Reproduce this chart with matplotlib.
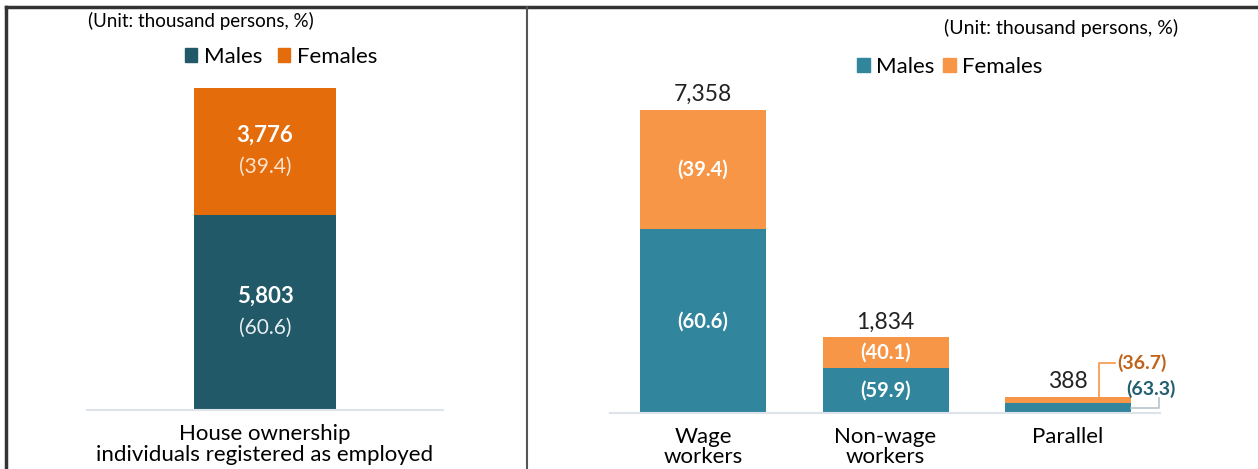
import matplotlib
matplotlib.use("Agg")
import matplotlib.pyplot as plt
from matplotlib.lines import Line2D

plt.rcParams['font.family'] = ['Lato', 'DejaVu Sans']

# left panel data
left_cat = ["House ownership\nindividuals registered as employed"]
left_males = [5803]
left_females = [3776]
left_male_pct = [60.6]
left_female_pct = [39.4]

# right panel data
right_cats = ["Wage\nworkers", "Non-wage\nworkers", "Parallel"]
right_totals = [7358, 1834, 388]
right_male_pct = [60.6, 59.9, 63.3]
right_female_pct = [39.4, 40.1, 36.7]
right_males = [4459, 1099, 246]
right_females = [2899, 735, 142]

unit_text = "(Unit: thousand persons, %)"

W, H = 1258, 469
fig = plt.figure(figsize=(W / 100, H / 100), dpi=100)

def box(x0, y0, x1, y1):
    # pixel box (top-left origin) -> figure fraction rect
    return [x0 / W, 1 - y1 / H, (x1 - x0) / W, (y1 - y0) / H]

# frame lines
fig.add_artist(Line2D([6 / W, 1], [1 - 7 / H, 1 - 7 / H], color="#333333", lw=2.5))
fig.add_artist(Line2D([6 / W, 6 / W], [0, 1 - 7 / H], color="#333333", lw=2.5))
fig.add_artist(Line2D([527 / W, 527 / W], [0, 1 - 7 / H], color="#555555", lw=1.5))

# ---------- left panel ----------
c_m1, c_f1 = "#215968", "#e46c0a"
ax1 = fig.add_axes(box(87, 88, 443, 410))
ax1.bar(0, left_males, width=1.0, color=c_m1)
ax1.bar(0, left_females, bottom=left_males, width=1.0, color=c_f1)
ax1.set_xlim(-1.25, 1.25)
ax1.set_ylim(0, left_males[0] + left_females[0])
ax1.axis("off")
ax1.axhline(0, color="#dde3e8", lw=1.5, clip_on=False)

m, f = left_males[0], left_females[0]
ax1.text(0, m / 2 + 470, f"{m:,}", ha="center", va="center", color="white",
         fontsize=16, fontweight="bold")
ax1.text(0, m / 2 - 450, f"({left_male_pct[0]})", ha="center", va="center",
         color="#e6eef0", fontsize=15)
ax1.text(0, m + f / 2 + 470, f"{f:,}", ha="center", va="center", color="white",
         fontsize=16, fontweight="bold")
ax1.text(0, m + f / 2 - 450, f"({left_female_pct[0]})", ha="center", va="center",
         color="#fbe3cf", fontsize=15)
ax1.text(0, -0.045, left_cat[0], transform=ax1.get_xaxis_transform(), ha="center",
         va="top", fontsize=16, linespacing=1.05, clip_on=False)

fig.text(88 / W, 1 - 21 / H, unit_text, ha="left", va="center", fontsize=13.5)
fig.legend(handles=[plt.Rectangle((0, 0), 1, 1, color=c_m1),
                    plt.Rectangle((0, 0), 1, 1, color=c_f1)],
           labels=["Males", "Females"], loc="center", bbox_to_anchor=(281 / W, 1 - 57 / H),
           ncol=2, frameon=False, fontsize=16, handlelength=0.55, handleheight=0.55,
           handletextpad=0.3, columnspacing=0.7)

# ---------- right panel ----------
c_m2, c_f2 = "#31859c", "#f79646"
ax2 = fig.add_axes(box(610, 110, 1160, 413))
xs = list(range(len(right_cats)))
ax2.bar(xs, right_males, width=0.69, color=c_m2)
ax2.bar(xs, right_females, bottom=right_males, width=0.69, color=c_f2)
ax2.set_xlim(-0.51, 2.504)
ax2.set_ylim(0, right_totals[0])
ax2.axis("off")
ax2.axhline(0, color="#dde3e8", lw=1.5, clip_on=False)

for i in xs:
    ax2.text(i, right_totals[i] + 120, f"{right_totals[i]:,}", ha="center", va="bottom",
             fontsize=16.5, color="#222222", clip_on=False)
    ax2.text(i, -0.045, right_cats[i], transform=ax2.get_xaxis_transform(), ha="center",
             va="top", fontsize=16, linespacing=1.0, clip_on=False)
    if i < 2:
        ax2.text(i, right_males[i] / 2, f"({right_male_pct[i]})", ha="center", va="center",
                 color="white", fontsize=14.5, fontweight="bold")
        ax2.text(i, right_males[i] + right_females[i] / 2, f"({right_female_pct[i]})",
                 ha="center", va="center", color="white", fontsize=14.5, fontweight="bold")

# parallel: labels outside with leader lines
i = 2
ax2.plot([i + 0.17, i + 0.17, i + 0.26], [right_totals[i], 1220, 1220],
         color=c_f2, lw=1.2, clip_on=False)
ax2.text(i + 0.27, 1220, f"({right_female_pct[i]})", ha="left", va="center",
         color="#c0631a", fontsize=14, fontweight="bold", clip_on=False)
ax2.plot([i + 0.345, i + 0.50, i + 0.50], [right_males[i] / 2, right_males[i] / 2, 370],
         color="#b8c4cc", lw=1.2, clip_on=False)
ax2.text(i + 0.32, 590, f"({right_male_pct[i]})", ha="left", va="center",
         color="#215e70", fontsize=14, fontweight="bold", clip_on=False)

fig.text(1178 / W, 1 - 28 / H, unit_text, ha="right", va="center", fontsize=14)
fig.legend(handles=[plt.Rectangle((0, 0), 1, 1, color=c_m2),
                    plt.Rectangle((0, 0), 1, 1, color=c_f2)],
           labels=["Males", "Females"], loc="center", bbox_to_anchor=(950 / W, 1 - 67 / H),
           ncol=2, frameon=False, fontsize=16, handlelength=0.55, handleheight=0.55,
           handletextpad=0.3, columnspacing=0.4)

fig.savefig("out.png", dpi=100)
